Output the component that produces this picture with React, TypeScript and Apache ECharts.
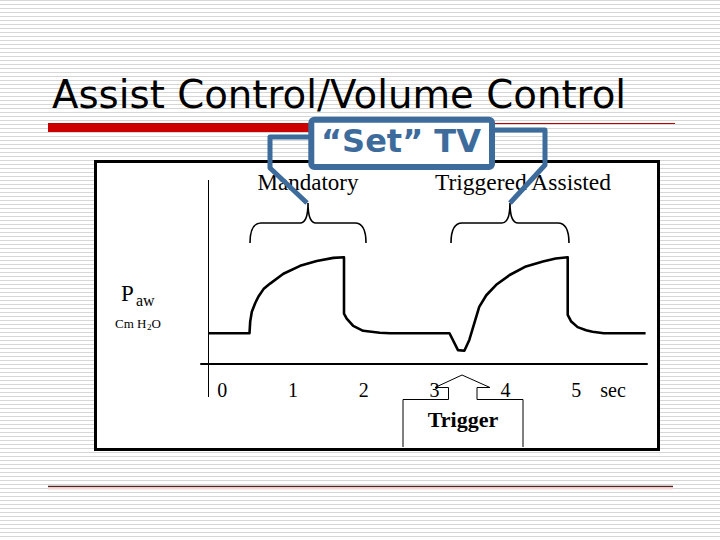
import React, { useEffect, useRef } from 'react';
import * as echarts from 'echarts';

// ---- texts ----
const TITLE = 'Assist Control/Volume Control';
const CALLOUT_TEXT = '\u201CSet\u201D TV';
const BREATH_LABELS = ['Mandatory', 'Triggered Assisted'];
const TRIGGER_TEXT = 'Trigger';
const Y_LABEL = 'P';
const Y_LABEL_SUB = 'aw';
const Y_UNIT = ['Cm H', '2', 'O'];

// ---- time axis ----
const TIME_TICKS = [0, 1, 2, 3, 4, 5];
const TIME_UNIT = 'sec';
const TIME_UNIT_AT = 5.52;
const AXIS_T = -0.2;

// ---- airway pressure waveform (time in s, pressure in cm H2O) ----
const TIME = [
  -0.2, 0.385, 0.395, 0.418, 0.465, 0.512, 0.583, 0.676, 0.864, 1.1, 1.335, 1.569, 1.72,
  1.72, 1.758, 1.85, 1.99, 2.225, 2.37, 3.21, 3.33, 3.42, 3.49, 3.56, 3.63, 3.73, 3.87,
  4.06, 4.29, 4.53, 4.71, 4.88, 4.88, 4.93, 5.02, 5.14, 5.23, 5.39, 5.98,
];
const PAW = [
  5, 5, 6.9, 8.5, 9.9, 11.0, 12.2, 13.1, 14.7, 16.0, 16.8, 17.3, 17.4,
  8.2, 7.4, 6.2, 5.4, 5.07, 5, 5, 2.25, 2.15, 3.9, 6.6, 9.3, 11.2, 12.9,
  14.5, 15.9, 16.7, 17.2, 17.4, 8.0, 6.9, 6.0, 5.5, 5.24, 5, 5,
];

const BRACE_D =
  'M0,40 C0,27 3,20 11,20 L50,20 C55,20 58,15 58,0 C58,15 61,20 66,20 L105,20 C113,20 116,27 116,40';
try {
  echarts.graphic.registerShape('brace', echarts.graphic.extendPath(BRACE_D, {}));
} catch (e) {
  /* already registered */
}

const BLUE = '#3d6b9c';
const SERIF = '"Liberation Serif", "Times New Roman", serif';
const SANS = '"DejaVu Sans", Verdana, sans-serif';

function txt(text: string, x: number, y: number, font: string, fill: string, align = 'left', z = 3) {
  return {
    type: 'text',
    z,
    style: {
      text,
      x,
      y,
      font,
      fill,
      align,
      textAlign: align,
      verticalAlign: 'middle',
      textVerticalAlign: 'middle',
    },
  };
}

export default function App() {
  const ref = useRef<HTMLDivElement>(null);

  useEffect(() => {
    if (!ref.current) return;
    const chart = echarts.init(ref.current, undefined, { renderer: 'svg' });

    const data = TIME.map((t, i) => [t, PAW[i]]);

    const graphic: any[] = [
      // chart frame
      {
        type: 'rect',
        z: -1,
        shape: { x: 95.5, y: 161.5, width: 563, height: 288 },
        style: { fill: '#ffffff', stroke: '#000000', lineWidth: 3 },
      },
      // title
      txt(TITLE, 52, 94, `38.7px ${SANS}`, '#000000', 'left', 5),
      // red rule under title
      {
        type: 'rect',
        z: 5,
        shape: { x: 48, y: 123, width: 265, height: 9 },
        style: { fill: '#cc0000' },
      },
      {
        type: 'line',
        z: 5,
        shape: { x1: 48, y1: 123.5, x2: 675, y2: 123.5 },
        style: { stroke: '#c00000', lineWidth: 1 },
      },
      // bottom rule
      {
        type: 'line',
        z: 5,
        shape: { x1: 48, y1: 486.5, x2: 673, y2: 486.5 },
        style: { stroke: '#5a2323', lineWidth: 1.3 },
      },
      {
        type: 'line',
        z: 5,
        shape: { x1: 48, y1: 488.5, x2: 673, y2: 488.5 },
        style: { stroke: '#f4d8d8', lineWidth: 2 },
      },
      // breath labels
      txt(BREATH_LABELS[0], 308, 182, `23px ${SERIF}`, '#000000', 'center', 3),
      txt(BREATH_LABELS[1], 523, 182, `23.5px ${SERIF}`, '#000000', 'center', 3),
      // braces
      {
        type: 'brace',
        z: 3,
        x: 250,
        y: 203,
        style: { fill: 'none', stroke: '#000000', lineWidth: 1.6 },
      },
      {
        type: 'brace',
        z: 3,
        x: 451,
        y: 203,
        scaleX: 118 / 116,
        style: { fill: 'none', stroke: '#000000', lineWidth: 1.6 },
      },
      // connectors from "Set" TV to braces
      {
        type: 'polyline',
        z: 9,
        shape: { points: [[307, 203], [270, 168], [270, 137], [312, 137]] },
        style: { fill: 'none', stroke: BLUE, lineWidth: 5, lineJoin: 'round' },
      },
      {
        type: 'polyline',
        z: 9,
        shape: { points: [[510, 203], [545, 165], [545, 130], [490, 130]] },
        style: { fill: 'none', stroke: BLUE, lineWidth: 5, lineJoin: 'round' },
      },
      // "Set" TV box
      {
        type: 'rect',
        z: 10,
        shape: { x: 311.3, y: 119.7, width: 180.7, height: 47.3, r: 3 },
        style: { fill: '#ffffff', stroke: BLUE, lineWidth: 6 },
      },
      txt(CALLOUT_TEXT, 401, 141, `bold 32px ${SANS}`, BLUE, 'center', 11),
      // y label
      txt(Y_LABEL, 121, 293, `23px ${SERIF}`, '#000000', 'left', 3),
      txt(Y_LABEL_SUB, 136, 300, `16px ${SERIF}`, '#000000', 'left', 3),
      txt(Y_UNIT[0], 115, 323, `13px ${SERIF}`, '#000000', 'left', 3),
      txt(Y_UNIT[1], 147, 326.5, `9px ${SERIF}`, '#000000', 'left', 3),
      txt(Y_UNIT[2], 151.5, 323, `13px ${SERIF}`, '#000000', 'left', 3),
      // trigger callout
      {
        type: 'rect',
        z: 4,
        shape: { x: 403, y: 399, width: 120, height: 48 },
        style: { fill: '#ffffff' },
      },
      {
        type: 'polyline',
        z: 4,
        shape: {
          points: [
            [403, 447], [403, 399.5], [448.5, 399.5], [448.5, 387.5], [435, 387.5], [462, 375],
            [490, 387.5], [477, 387.5], [477, 399.5], [523, 399.5], [523, 447],
          ],
        },
        style: { fill: 'none', stroke: '#000000', lineWidth: 1 },
      },
      txt(TRIGGER_TEXT, 463, 419, `bold 22px ${SERIF}`, '#000000', 'center', 5),
    ];

    chart.setOption({
      animation: false,
      backgroundColor: 'transparent',
      grid: { left: 201, right: 73, top: 180, bottom: 143, containLabel: false },
      xAxis: {
        type: 'value',
        min: -0.3,
        max: 6,
        axisLine: { show: true, onZero: true, lineStyle: { color: '#000000', width: 2 } },
        axisTick: { show: false },
        splitLine: { show: false },
        axisLabel: {
          customValues: [...TIME_TICKS, TIME_UNIT_AT],
          formatter: (v: number) => (v === TIME_UNIT_AT ? TIME_UNIT : String(v)),
          color: '#000000',
          fontFamily: SERIF,
          fontSize: 20,
          margin: -17,
        },
      },
      yAxis: {
        type: 'value',
        min: -5.4,
        max: 30,
        show: false,
        splitLine: { show: false },
      },
      series: [
        {
          type: 'line',
          data,
          showSymbol: false,
          symbol: 'none',
          z: 3,
          lineStyle: { color: '#000000', width: 2.6, join: 'round' },
          markLine: {
            silent: true,
            symbol: ['none', 'none'],
            label: { show: false },
            lineStyle: { color: '#000000', width: 1, type: 'solid' },
            data: [{ xAxis: AXIS_T }],
          },
        },
      ],
      graphic,
    });

    return () => chart.dispose();
  }, []);

  return (
    <div
      ref={ref}
      style={{
        position: 'fixed',
        left: 0,
        top: 0,
        width: 720,
        height: 540,
        background:
          'repeating-linear-gradient(to bottom, #d6d6d6 0px, #d6d6d6 1.3px, #ffffff 1.3px, #ffffff 4px)',
      }}
    />
  );
}
